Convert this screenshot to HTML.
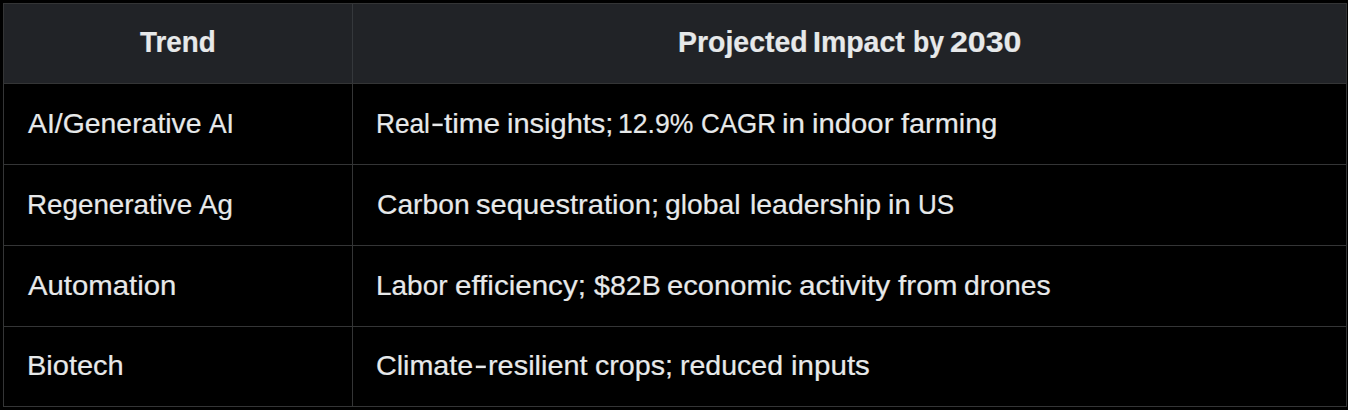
<!DOCTYPE html>
<html>
<head>
<meta charset="utf-8">
<style>
html,body{margin:0;padding:0;background:#000;width:1348px;height:410px;overflow:hidden;}
body{font-family:"Liberation Sans",sans-serif;color:#e7e9ea;position:relative;}
.b{position:absolute;background:#343536;}
.hd{position:absolute;left:4px;top:4px;width:1342px;height:79px;background:#212327;}
.w{position:absolute;white-space:nowrap;-webkit-text-stroke:0.2px #e7e9ea;font-size:28px;line-height:32px;transform-origin:0 0;}
.h{font-weight:bold;font-size:28.6px;}
</style>
</head>
<body>
<div class="hd"></div>
<div class="b" style="left:3px;top:3px;width:1344px;height:1px"></div>
<div class="b" style="left:3px;top:406px;width:1344px;height:1px"></div>
<div class="b" style="left:3px;top:3px;width:1px;height:404px"></div>
<div class="b" style="left:1346px;top:3px;width:1px;height:404px"></div>
<div class="b" style="left:3px;top:83px;width:1344px;height:1px"></div>
<div class="b" style="left:3px;top:164px;width:1344px;height:1px"></div>
<div class="b" style="left:3px;top:245px;width:1344px;height:1px"></div>
<div class="b" style="left:3px;top:326px;width:1344px;height:1px"></div>
<div class="b" style="left:352px;top:84px;width:1px;height:323px"></div>
<div class="b" style="left:352px;top:4px;width:1px;height:79px;background:#35383c"></div>
<div class="w h" style="left:140.42px;top:26px;transform:scaleX(0.9728)">Trend</div>
<div class="w h" style="left:677.91px;top:26px;transform:scaleX(0.9947)">Projected</div>
<div class="w h" style="left:813.41px;top:26px;transform:scaleX(0.9958)">Impact</div>
<div class="w h" style="left:912.73px;top:26px;transform:scaleX(0.9276)">by</div>
<div class="w h" style="left:950.35px;top:26px;transform:scaleX(1.1221)">2030</div>
<div class="w" style="left:27.67px;top:108px;transform:scaleX(1.0139)">AI/Generative</div>
<div class="w" style="left:208.68px;top:108px;transform:scaleX(0.9435)">AI</div>
<div class="w" style="left:376.19px;top:108px;transform:scaleX(0.9363)">Real</div>
<div class="w" style="left:444.3px;top:108px;transform:scaleX(1.0612)">time</div>
<div class="w" style="left:506.86px;top:108px;transform:scaleX(1.036)">insights;</div>
<div class="w" style="left:618.31px;top:108px;transform:scaleX(0.9485)">12.9%</div>
<div class="w" style="left:700.82px;top:108px;transform:scaleX(0.9268)">CAGR</div>
<div class="w" style="left:782.13px;top:108px;transform:scaleX(1.0575)">in</div>
<div class="w" style="left:812.05px;top:108px;transform:scaleX(1.0458)">indoor</div>
<div class="w" style="left:901.04px;top:108px;transform:scaleX(1.0319)">farming</div>
<div class="w" style="left:27.26px;top:189px;transform:scaleX(0.9919)">Regenerative</div>
<div class="w" style="left:199.27px;top:189px;transform:scaleX(0.9906)">Ag</div>
<div class="w" style="left:376.5px;top:189px;transform:scaleX(1.0087)">Carbon</div>
<div class="w" style="left:476.46px;top:189px;transform:scaleX(1.0411)">sequestration;</div>
<div class="w" style="left:665.24px;top:189px;transform:scaleX(1.0099)">global</div>
<div class="w" style="left:749.5px;top:189px;transform:scaleX(1.0147)">leadership</div>
<div class="w" style="left:887.66px;top:189px;transform:scaleX(1.0358)">in</div>
<div class="w" style="left:917.75px;top:189px;transform:scaleX(0.9305)">US</div>
<div class="w" style="left:27.76px;top:270px;transform:scaleX(1.0474)">Automation</div>
<div class="w" style="left:376.25px;top:270px;transform:scaleX(0.9992)">Labor</div>
<div class="w" style="left:455.17px;top:270px;transform:scaleX(1.0556)">efficiency;</div>
<div class="w" style="left:593.73px;top:270px;transform:scaleX(1.0201)">$82B</div>
<div class="w" style="left:667.49px;top:270px;transform:scaleX(1.042)">economic</div>
<div class="w" style="left:799.06px;top:270px;transform:scaleX(1.0668)">activity</div>
<div class="w" style="left:897.63px;top:270px;transform:scaleX(1.06)">from</div>
<div class="w" style="left:963.63px;top:270px;transform:scaleX(1.0125)">drones</div>
<div class="w" style="left:27.36px;top:350px;transform:scaleX(1.036)">Biotech</div>
<div class="w" style="left:376.48px;top:350px;transform:scaleX(1.0243)">Climate</div>
<div class="w" style="left:487.87px;top:350px;transform:scaleX(1.0316)">resilient</div>
<div class="w" style="left:595.31px;top:350px;transform:scaleX(1.0224)">crops;</div>
<div class="w" style="left:680.2px;top:350px;transform:scaleX(1.0181)">reduced</div>
<div class="w" style="left:790.63px;top:350px;transform:scaleX(1.0556)">inputs</div>
<svg style="position:absolute;left:0;top:0" width="1348" height="410"><rect x="432.4" y="123.6" width="10.3" height="2.5" fill="#e7e9ea"/><rect x="475.8" y="365.6" width="10" height="2.5" fill="#e7e9ea"/></svg>
</body>
</html>
